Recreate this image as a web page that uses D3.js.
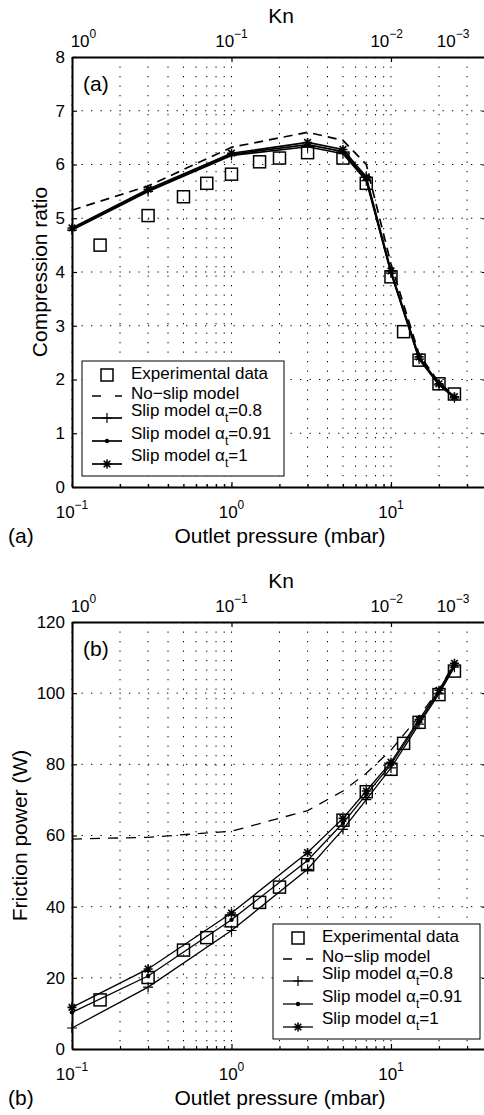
<!DOCTYPE html>
<html>
<head>
<meta charset="utf-8">
<script src="https://cdn.jsdelivr.net/npm/d3@7/dist/d3.min.js"></script>
<style>
  body { margin: 0; background: #fff; }
  text { font-family: "Liberation Sans", Arial, Helvetica, sans-serif; fill: #000; }
</style>
</head>
<body>
<svg width="484" height="1115" id="mainsvg"></svg>
<script>
// data
const pressExp = [0.15, 0.3, 0.5, 0.7, 1, 1.5, 2, 3, 5, 7, 10, 12, 15, 20, 25];
const ratioExp = [4.5, 5.05, 5.4, 5.65, 5.82, 6.05, 6.12, 6.22, 6.12, 5.65, 3.91, 2.89, 2.36, 1.92, 1.73];
const powerExp = [13.8, 20.1, 27.8, 31.3, 36, 41.2, 45.5, 51.8, 64.3, 72.3, 78.6, 85.9, 91.8, 99.6, 106.2];

const pressModel = [0.1, 0.3, 1, 3, 5, 7, 10, 15, 20, 25];
const ratioNoSlip = [5.15, 5.6, 6.32, 6.6, 6.45, 6.0, 4.15, 2.47, 1.94, 1.7];
const ratioSlip08 = [4.78, 5.5, 6.17, 6.33, 6.2, 5.7, 3.98, 2.38, 1.9, 1.66];
const ratioSlip091 = [4.8, 5.52, 6.19, 6.37, 6.24, 5.73, 4.0, 2.4, 1.91, 1.67];
const ratioSlip1 = [4.82, 5.54, 6.21, 6.41, 6.28, 5.77, 4.02, 2.42, 1.92, 1.68];

const powerNoSlip = [59.0, 59.5, 61.2, 67, 72.5, 77.5, 84, 93.5, 101, 108.5];
const powerSlip08 = [5.9, 17.4, 33.3, 50.5, 61.7, 70.1, 79, 91.3, 99.8, 107.3];
const powerSlip091 = [10.3, 20.5, 36.3, 53, 63.5, 71.5, 80, 92, 100.3, 107.8];
const powerSlip1 = [11.7, 22.5, 38.2, 55.2, 64.8, 72.5, 80.6, 92.6, 100.8, 108.4];

const xDecades = [0.1, 1, 10];
const xMinor = [0.2, 0.3, 0.4, 0.5, 0.6, 0.7, 0.8, 0.9, 2, 3, 4, 5, 6, 7, 8, 9, 20, 30];
const xExp = ["\u22121", "0", "1"];
const knExp = ["0", "\u22121", "\u22122", "\u22123"];
const knAtPressure = [0.118, 1, 9.4, 24.5];   // where the Kn labels sit on the pressure axis
const legendNames = ["Experimental data", "No\u2212slip model", "Slip model \u03b1", "Slip model \u03b1", "Slip model \u03b1"];
const legendSuffix = [null, null, "=0.8", "=0.91", "=1"];

const svg = d3.select('svg');
const x = d3.scaleLog().domain([0.1, 40]).range([72, 487]);

const plus = "M-5,0H5M0,-5V5";
const star = "M-4.5,0H4.5M0,-4.5V4.5M-3.3,-3.3L3.3,3.3M-3.3,3.3L3.3,-3.3";

function drawPanel(p) {
    const y = d3.scaleLinear().domain(p.yDomain).range([p.bottom, p.top]);
    const g = svg.append('g');

    // dotted grid
    g.selectAll('.vgrid').data(xDecades.concat(xMinor)).join('line')
        .attr('x1', d => x(d)).attr('x2', d => x(d))
        .attr('y1', p.top).attr('y2', p.bottom)
        .attr('stroke', '#000').attr('stroke-width', 1).attr('stroke-dasharray', '1.3,8.2');
    g.selectAll('.hgrid').data(p.yTicks.slice(1, -1)).join('line')
        .attr('x1', 72).attr('x2', 487)
        .attr('y1', d => y(d)).attr('y2', d => y(d))
        .attr('stroke', '#000').attr('stroke-width', 1).attr('stroke-dasharray', '1.3,8.2');

    // axes, inward ticks
    const left = g.append('g').attr('transform', `translate(72,0)`)
        .call(d3.axisLeft(y).tickValues(p.yTicks).tickSizeInner(-5).tickSizeOuter(0).tickPadding(7));
    const right = g.append('g').attr('transform', `translate(487,0)`)
        .call(d3.axisRight(y).tickValues(p.yTicks).tickSizeInner(-5).tickSizeOuter(0).tickFormat(''));
    const bottom = g.append('g').attr('transform', `translate(0,${p.bottom})`)
        .call(d3.axisBottom(x).tickValues(xDecades).tickSizeInner(-5).tickSizeOuter(0).tickFormat(''));
    const bottomMinor = g.append('g').attr('transform', `translate(0,${p.bottom})`)
        .call(d3.axisBottom(x).tickValues(xMinor).tickSizeInner(-3).tickSizeOuter(0).tickFormat(''));
    const top = g.append('g').attr('transform', `translate(0,${p.top})`)
        .call(d3.axisTop(x).tickValues(xDecades).tickSizeInner(-5).tickSizeOuter(0).tickFormat(''));
    [left, right, bottom, bottomMinor, top].forEach(a => {
        a.selectAll('.domain').attr('stroke-width', 2);
        a.selectAll('.tick line').attr('stroke-width', 1.2);
    });
    bottomMinor.select('.domain').remove();
    left.selectAll('text').attr('font-size', 17).attr('font-family', '"Liberation Sans", Arial, sans-serif');

    // bottom tick labels 10^n
    const bl = g.selectAll('.blab').data(xDecades).join('text')
        .attr('x', d => x(d)).attr('y', p.bottom + 31)
        .attr('text-anchor', 'middle').attr('font-size', 17);
    bl.append('tspan').text('10');
    bl.append('tspan').attr('dy', -9).attr('font-size', 12).text((d, i) => xExp[i]);

    // top Kn labels
    const tl = g.selectAll('.tlab').data(knAtPressure).join('text')
        .attr('x', d => x(d)).attr('y', p.top - 10)
        .attr('text-anchor', 'middle').attr('font-size', 17);
    tl.append('tspan').text('10');
    tl.append('tspan').attr('dy', -9).attr('font-size', 12).text((d, i) => knExp[i]);

    g.append('text').attr('x', 281).attr('y', p.top - 34).attr('text-anchor', 'middle')
        .attr('font-size', 21).text('Kn');
    g.append('text').attr('x', 280).attr('y', p.bottom + 56).attr('text-anchor', 'middle')
        .attr('font-size', 21).text('Outlet pressure (mbar)');
    g.append('text').attr('x', 8).attr('y', p.bottom + 56).attr('font-size', 21).text(p.tag);
    g.append('text').attr('x', 83).attr('y', p.top + 34).attr('font-size', 21).text(p.tag);
    g.append('text').attr('transform', `translate(${p.ylabX},${(p.top + p.bottom) / 2}) rotate(-90)`)
        .attr('text-anchor', 'middle').attr('font-size', 21).text(p.ylabel);

    // curves
    const line = d3.line().x(d => x(d[0])).y(d => y(d[1]));
    const series = [
        { v: p.noSlip, dash: p.dash, mark: null },
        { v: p.s08, dash: null, mark: 'plus' },
        { v: p.s091, dash: null, mark: 'dot' },
        { v: p.s1, dash: null, mark: 'star' }
    ];
    series.forEach(s => {
        const pts = pressModel.map((q, i) => [q, s.v[i]]);
        g.append('path').attr('d', line(pts)).attr('fill', 'none')
            .attr('stroke', '#000').attr('stroke-width', p.lw)
            .attr('stroke-dasharray', s.dash);
        drawMarks(g, pts.map(d => [x(d[0]), y(d[1])]), s.mark);
    });

    // experimental squares
    g.selectAll('.sq').data(pressExp).join('rect')
        .attr('x', d => x(d) - 6).attr('y', (d, i) => y(p.exp[i]) - 6)
        .attr('width', 12).attr('height', 12)
        .attr('fill', 'none').attr('stroke', '#000').attr('stroke-width', 1.5);

    // legend
    const lg = g.append('g').attr('transform', `translate(${p.legX},${p.legY})`);
    lg.append('rect').attr('width', p.legW).attr('height', 115)
        .attr('fill', '#fff').attr('stroke', '#000').attr('stroke-width', 1);
    const baseY = [18, 38, 55, 78, 100];
    const symY = [14, 35, 57, 80, 103];
    const marks = [null, null, 'plus', 'dot', 'star'];
    legendNames.forEach((name, i) => {
        const t = lg.append('text').attr('x', 49).attr('y', baseY[i]).attr('font-size', 17);
        t.append('tspan').text(name);
        if (legendSuffix[i]) {
            t.append('tspan').attr('dy', 6).attr('font-size', 12).text('t');
            t.append('tspan').attr('dy', -6).text(legendSuffix[i]);
        }
        if (i === 0) {
            lg.append('rect').attr('x', 19).attr('y', symY[i] - 6).attr('width', 12).attr('height', 12)
                .attr('fill', 'none').attr('stroke', '#000').attr('stroke-width', 1.5);
        } else {
            lg.append('line').attr('x1', 10).attr('x2', 40).attr('y1', symY[i]).attr('y2', symY[i])
                .attr('stroke', '#000').attr('stroke-width', p.lw)
                .attr('stroke-dasharray', i === 1 ? '9,14' : null);
            drawMarks(lg, [[25, symY[i]]], marks[i]);
        }
    });
}

function drawMarks(g, pts, mark) {
    if (!mark) return;
    if (mark === 'dot') {
        g.selectAll(null).data(pts).join('circle')
            .attr('cx', d => d[0]).attr('cy', d => d[1]).attr('r', 2.2).attr('fill', '#000');
    } else {
        g.selectAll(null).data(pts).join('path')
            .attr('transform', d => `translate(${d[0]},${d[1]})`)
            .attr('d', mark === 'plus' ? plus : star)
            .attr('stroke', '#000').attr('stroke-width', mark === 'plus' ? 1.2 : 1.6).attr('fill', 'none');
    }
}

drawPanel({
    top: 57, bottom: 487, yDomain: [0, 8], yTicks: d3.range(0, 9),
    ylabel: 'Compression ratio', ylabX: 47, tag: '(a)', lw: 1.7, dash: '9,6',
    exp: ratioExp, noSlip: ratioNoSlip, s08: ratioSlip08, s091: ratioSlip091, s1: ratioSlip1,
    legX: 82, legY: 361, legW: 202
});
drawPanel({
    top: 622, bottom: 1049, yDomain: [0, 120], yTicks: d3.range(0, 121, 20),
    ylabel: 'Friction power (W)', ylabX: 27, tag: '(b)', lw: 1.3, dash: '10,8',
    exp: powerExp, noSlip: powerNoSlip, s08: powerSlip08, s091: powerSlip091, s1: powerSlip1,
    legX: 273, legY: 924, legW: 207
});
</script>
</body>
</html>
